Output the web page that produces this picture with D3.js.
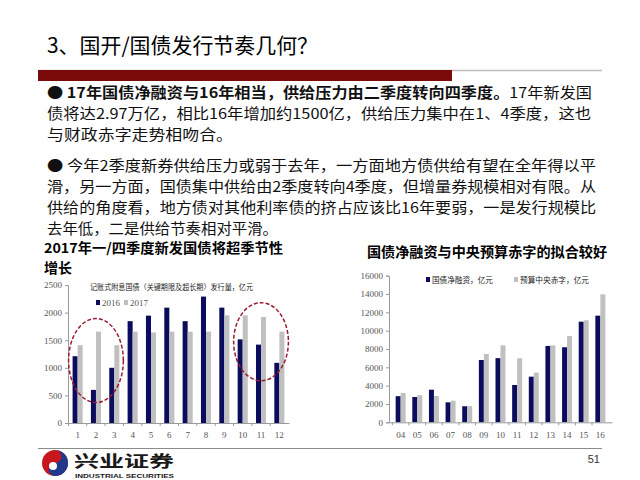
<!DOCTYPE html>
<html>
<head>
<meta charset="utf-8">
<script src="https://cdn.jsdelivr.net/npm/d3@7"></script>
<style>
  body { margin: 0; background: #fff; }
  svg { display: block; }
</style>
</head>
<body>
<div id="slide"></div>
<script>
// data: left chart (monthly issuance, 100m yuan)
const months = ["1","2","3","4","5","6","7","8","9","10","11","12"];
const issue2016 = [1210, 600, 1000, 1845, 1945, 2090, 1845, 2290, 2090, 1515, 1420, 1090];
const issue2017 = [1410, 1655, 1410, 1655, 1640, 1655, 1655, 1655, 1950, 1950, 1920, 1655];
const leftTicks = [0, 500, 1000, 1500, 2000, 2500];

// data: right chart (yearly, 100m yuan)
const years = ["04","05","06","07","08","09","10","11","12","13","14","15","16"];
const netFinancing = [2850, 2760, 3560, 2180, 1750, 6800, 7000, 4070, 4980, 8330, 8190, 10980, 11640];
const deficit = [3200, 2950, 2870, 2360, 1770, 7460, 8400, 6990, 5420, 8400, 9420, 11130, 13970];
const rightTicks = [0, 2000, 4000, 6000, 8000, 10000, 12000, 14000, 16000];

const navy = "#0c0c5e", grey = "#c0c0c0", axisGrey = "#9a9a9a", tickText = "#555";
const cjk = "'Noto Sans CJK SC', sans-serif";
const serif = "'Liberation Serif', 'DejaVu Serif', serif";

const svg = d3.select("#slide").append("svg")
  .attr("width", 640).attr("height", 480);

// header
svg.append("text")
  .attr("x", 47).attr("y", 53)
  .attr("font-family", cjk).attr("font-size", 21)
  .attr("textLength", 271).attr("lengthAdjust", "spacingAndGlyphs")
  .text("3、国开/国债发行节奏几何？");
svg.append("line")
  .attr("x1", 38).attr("x2", 602).attr("y1", 70.5).attr("y2", 70.5)
  .attr("stroke", "#c4bcbc").attr("stroke-width", 1.5);
svg.append("rect")
  .attr("x", 38).attr("y", 70).attr("width", 414).attr("height", 11)
  .attr("fill", "#7b0a0a");

// body text
const para = [
  { y: 98, len: 545, parts: [["● ", false], ["17年国债净融资与16年相当，供给压力由二季度转向四季度。", true], ["17年新发国", false]] },
  { y: 119, len: 544, parts: [["债将达2.97万亿，相比16年增加约1500亿，供给压力集中在1、4季度，这也", false]] },
  { y: 140, len: 186, parts: [["与财政赤字走势相吻合。", false]] },
  { y: 171, len: 549, parts: [["●  今年2季度新券供给压力或弱于去年，一方面地方债供给有望在全年得以平", false]] },
  { y: 192, len: 549, parts: [["滑，另一方面，国债集中供给由2季度转向4季度，但增量券规模相对有限。从", false]] },
  { y: 213, len: 549, parts: [["供给的角度看，地方债对其他利率债的挤占应该比16年要弱，一是发行规模比", false]] },
  { y: 234, len: 231, parts: [["去年低，二是供给节奏相对平滑。", false]] }
];
para.forEach(line => {
  const t = svg.append("text")
    .attr("x", 47).attr("y", line.y)
    .attr("font-family", cjk).attr("font-size", 14.5).attr("fill", "#111")
    .attr("textLength", line.len).attr("lengthAdjust", "spacingAndGlyphs");
  line.parts.forEach(p => t.append("tspan").attr("font-weight", p[1] ? "bold" : "normal").text(p[0]));
});

// chart titles
svg.append("text").attr("x", 44).attr("y", 252.5)
  .attr("font-family", cjk).attr("font-size", 13.5).attr("font-weight", "bold")
  .attr("textLength", 239).attr("lengthAdjust", "spacingAndGlyphs")
  .text("2017年一/四季度新发国债将超季节性");
svg.append("text").attr("x", 44).attr("y", 272.5)
  .attr("font-family", cjk).attr("font-size", 13.5).attr("font-weight", "bold")
  .attr("textLength", 28).attr("lengthAdjust", "spacingAndGlyphs")
  .text("增长");
svg.append("text").attr("x", 367).attr("y", 257)
  .attr("font-family", cjk).attr("font-size", 14).attr("font-weight", "bold")
  .attr("textLength", 240).attr("lengthAdjust", "spacingAndGlyphs")
  .text("国债净融资与中央预算赤字的拟合较好");

// generic grouped bar chart
function barChart(opt) {
  const g = svg.append("g");
  const x0 = d3.scaleBand().domain(opt.cats).range(opt.xr)
    .paddingInner(opt.pi).paddingOuter(opt.po);
  const x1 = d3.scaleBand().domain(["a", "b"]).range([0, x0.bandwidth()]);
  const y = d3.scaleLinear().domain(opt.yd).range(opt.yr);

  const rows = opt.cats.map((c, i) => ({ c, a: opt.a[i], b: opt.b[i] }));
  const grp = g.selectAll("g.cat").data(rows).enter().append("g")
    .attr("transform", d => `translate(${x0(d.c)},0)`);
  grp.append("rect")
    .attr("x", x1("a")).attr("width", x1.bandwidth())
    .attr("y", d => y(d.a)).attr("height", d => y(0) - y(d.a))
    .attr("fill", navy);
  grp.append("rect")
    .attr("x", x1("b")).attr("width", x1.bandwidth())
    .attr("y", d => y(d.b)).attr("height", d => y(0) - y(d.b))
    .attr("fill", grey);

  // y axis
  const ya = g.append("g").attr("transform", `translate(${opt.xr[0]},0)`)
    .call(d3.axisLeft(y).tickValues(opt.ticks).tickSize(3).tickPadding(3).tickFormat(d3.format("d")));
  ya.select(".domain").attr("stroke", axisGrey);
  ya.selectAll(".tick line").attr("stroke", axisGrey);
  ya.selectAll("text").attr("font-family", serif).attr("font-size", 9).attr("fill", tickText);

  // x axis
  const xa = g.append("g").attr("transform", `translate(0,${y(0)})`)
    .call(d3.axisBottom(x0).tickSize(0).tickPadding(9).tickSizeOuter(0));
  xa.select(".domain").attr("stroke", axisGrey);
  xa.selectAll("text").attr("font-family", serif).attr("font-size", 9).attr("fill", tickText);
  // tick marks between categories
  xa.selectAll("line.sep").data(opt.cats).enter().append("line")
    .attr("class", "sep")
    .attr("x1", d => x0(d) - x0.step() * x0.paddingInner() / 2)
    .attr("x2", d => x0(d) - x0.step() * x0.paddingInner() / 2)
    .attr("y1", 0).attr("y2", 3).attr("stroke", axisGrey);
  return { x0, y };
}

const left = barChart({
  cats: months, a: issue2016, b: issue2017,
  xr: [68, 289], pi: 0.45, po: 0.25,
  yd: [0, 2500], yr: [423, 285], ticks: leftTicks
});
const right = barChart({
  cats: years, a: netFinancing, b: deficit,
  xr: [389, 612], pi: 0.4, po: 0.4,
  yd: [0, 16000], yr: [422.3, 275.7], ticks: rightTicks
});

// left chart note + legend
svg.append("text").attr("x", 90).attr("y", 290)
  .attr("font-family", cjk).attr("font-size", 7.5).attr("fill", "#222")
  .attr("textLength", 163).attr("lengthAdjust", "spacingAndGlyphs")
  .text("记账式附息国债（关键期限及超长期）发行量，亿元");
const legL = [["2016", navy, 96], ["2017", grey, 124]];
legL.forEach(l => {
  svg.append("rect").attr("x", l[2]).attr("y", 300).attr("width", 4).attr("height", 5).attr("fill", l[1]);
  svg.append("text").attr("x", l[2] + 6).attr("y", 306)
    .attr("font-family", serif).attr("font-size", 9).attr("fill", tickText).text(l[0]);
});

// right chart legend
const legR = [["国债净融资，亿元", navy, 426, 61], ["预算中央赤字，亿元", grey, 514, 69]];
legR.forEach(l => {
  svg.append("rect").attr("x", l[2]).attr("y", 277).attr("width", 4).attr("height", 5).attr("fill", l[1]);
  svg.append("text").attr("x", l[2] + 6).attr("y", 282.5)
    .attr("font-family", cjk).attr("font-size", 7.5).attr("fill", "#222")
    .attr("textLength", l[3]).attr("lengthAdjust", "spacingAndGlyphs").text(l[0]);
});

// dashed ellipses highlighting Q1 / Q4
const ellipses = [[["1", "3"], 360.5, 42], [["10", "12"], 341.7, 39]];
ellipses.forEach(e => {
  const a = left.x0(e[0][0]) - 4, b = left.x0(e[0][1]) + left.x0.bandwidth() + 4;
  svg.append("ellipse")
    .attr("cx", (a + b) / 2).attr("cy", e[1])
    .attr("rx", (b - a) / 2).attr("ry", e[2])
    .attr("fill", "none").attr("stroke", "#9b1b30")
    .attr("stroke-width", 1.5).attr("stroke-dasharray", "4,2");
});

// footer
svg.append("line").attr("x1", 38).attr("x2", 602).attr("y1", 448.5).attr("y2", 448.5)
  .attr("stroke", "#8c8c8c").attr("stroke-width", 1);
svg.append("text").attr("x", 600).attr("y", 463).attr("text-anchor", "end")
  .attr("font-family", "'Liberation Sans', sans-serif").attr("font-size", 11).attr("fill", "#333").text("51");

// logo
const logo = svg.append("g").attr("transform", "translate(55,463)");
logo.append("circle").attr("r", 13).attr("fill", "#c8161d");
logo.append("path").attr("d", "M0,-13 A13,13 0 0,1 0,13 A6.5,6.5 0 0,1 0,0 A6.5,6.5 0 0,0 0,-13Z").attr("fill", "#1f3a8a");
logo.append("circle").attr("r", 4).attr("cx", -2).attr("cy", 3).attr("fill", "#fff");
svg.append("text").attr("x", 74).attr("y", 467)
  .attr("font-family", cjk).attr("font-size", 16).attr("font-weight", "bold").attr("fill", "#1a1a1a")
  .attr("textLength", 100).attr("lengthAdjust", "spacingAndGlyphs").text("兴业证券");
svg.append("text").attr("x", 75).attr("y", 478)
  .attr("font-family", "'Liberation Sans', sans-serif").attr("font-size", 5).attr("font-weight", "bold").attr("fill", "#1a1a1a")
  .attr("textLength", 99).attr("lengthAdjust", "spacingAndGlyphs").text("INDUSTRIAL SECURITIES");
</script>
</body>
</html>
